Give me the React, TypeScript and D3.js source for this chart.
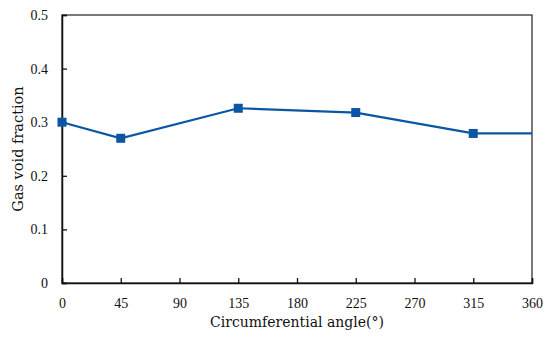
import { useEffect, useRef } from 'react';
import * as d3 from 'd3';

const angles = [0, 45, 135, 225, 315, 360];
const fractions = [0.3, 0.27, 0.326, 0.318, 0.279, 0.279];
const markerAngles = [0, 45, 135, 225, 315];
const xTicks = [0, 45, 90, 135, 180, 225, 270, 315, 360];
const yTicks = [0, 0.1, 0.2, 0.3, 0.4, 0.5];

const width = 550;
const height = 337;
const margin = { top: 15, right: 18, bottom: 54, left: 62 };
const lineColor = '#0b56a4';
const tickFont = '"Liberation Serif", serif';
const titleFont = '"DejaVu Serif", serif';

const App = () => {
  const ref = useRef<SVGSVGElement>(null);

  useEffect(() => {
    const svg = d3.select(ref.current);
    svg.selectAll('*').remove();

    const x = d3.scaleLinear().domain([0, 360]).range([margin.left, width - margin.right]);
    const y = d3.scaleLinear().domain([0, 0.5]).range([height - margin.bottom, margin.top]);

    // frame
    svg.append('rect')
      .attr('x', x(0)).attr('y', y(0.5))
      .attr('width', x(360) - x(0)).attr('height', y(0) - y(0.5))
      .attr('fill', 'none').attr('stroke', '#333').attr('stroke-width', 1.3);

    const xAxis = svg.append('g')
      .attr('transform', `translate(0,${y(0)})`)
      .call(d3.axisBottom(x).tickValues(xTicks).tickSize(-5).tickPadding(15).tickFormat(d3.format('d')));
    xAxis.select('.domain').attr('stroke', '#111').attr('stroke-width', 1.5);

    const yAxis = svg.append('g')
      .attr('transform', `translate(${x(0)},0)`)
      .call(d3.axisLeft(y).tickValues(yTicks).tickSize(-5).tickPadding(14)
        .tickFormat(d => (d === 0 ? '0' : d3.format('.1f')(d as number))));
    yAxis.select('.domain').attr('stroke', '#111').attr('stroke-width', 1.5);

    svg.selectAll('.tick line').attr('stroke', '#111').attr('stroke-width', 1.3);
    svg.selectAll('.tick text')
      .attr('font-family', tickFont).attr('font-size', 14).attr('fill', '#111');

    const points = angles.map((a, i) => [a, fractions[i]] as [number, number]);
    const line = d3.line<[number, number]>().x(d => x(d[0])).y(d => y(d[1]));
    svg.append('path')
      .datum(points)
      .attr('d', line)
      .attr('fill', 'none')
      .attr('stroke', lineColor)
      .attr('stroke-width', 2.2);

    const s = 9;
    svg.selectAll('.marker')
      .data(points.filter(p => markerAngles.includes(p[0])))
      .enter()
      .append('rect')
      .attr('class', 'marker')
      .attr('x', d => x(d[0]) - s / 2)
      .attr('y', d => y(d[1]) - s / 2)
      .attr('width', s)
      .attr('height', s)
      .attr('fill', lineColor);

    svg.append('text')
      .attr('x', (x(0) + x(360)) / 2)
      .attr('y', 327)
      .attr('text-anchor', 'middle')
      .attr('font-family', titleFont)
      .attr('font-size', 14)
      .attr('fill', '#111')
      .text('Circumferential angle(°)');

    svg.append('text')
      .attr('transform', `translate(23,149) rotate(-90)`)
      .attr('text-anchor', 'middle')
      .attr('font-family', titleFont)
      .attr('font-size', 14.5)
      .attr('fill', '#111')
      .text('Gas void fraction');
  }, []);

  return (
    <svg ref={ref} width={width} height={height}
      style={{ position: 'absolute', left: 0, top: 0, background: '#fff' }} />
  );
};

export default App;
